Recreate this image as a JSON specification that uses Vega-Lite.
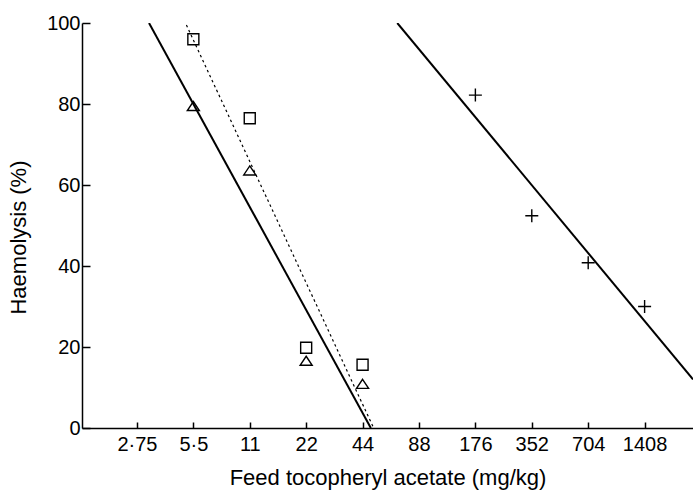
{
  "$schema": "https://vega.github.io/schema/vega-lite/v6.json",
  "autosize": {"type": "none"},
  "width": 611,
  "height": 405,
  "padding": {"left": 82, "top": 23, "right": 0, "bottom": 63},
  "background": "white",
  "config": {
    "view": {"stroke": null},
    "font": "Liberation Sans",
    "axis": {
      "domainColor": "black",
      "domainWidth": 1.5,
      "tickColor": "black",
      "tickWidth": 1.5,
      "labelColor": "black",
      "titleColor": "black",
      "labelFont": "Liberation Sans",
      "titleFont": "Liberation Sans",
      "labelFontSize": 20,
      "titleFontSize": 22,
      "titleFontWeight": "normal",
      "grid": false
    }
  },
  "datasets": {
    "pts": [
      {"series": "square", "dose": 5.5, "h": 96},
      {"series": "square", "dose": 11, "h": 76.5},
      {"series": "square", "dose": 22, "h": 19.8},
      {"series": "square", "dose": 44, "h": 15.6},
      {"series": "triangle", "dose": 5.5, "h": 79.5},
      {"series": "triangle", "dose": 11, "h": 63.6},
      {"series": "triangle", "dose": 22, "h": 16.6},
      {"series": "triangle", "dose": 44, "h": 10.9},
      {"series": "plus", "dose": 176, "h": 82.2},
      {"series": "plus", "dose": 352, "h": 52.4},
      {"series": "plus", "dose": 704, "h": 40.8},
      {"series": "plus", "dose": 1408, "h": 30}
    ],
    "fits": [
      {"fit": "triangle fit", "dose": 3.19, "h": 100},
      {"fit": "triangle fit", "dose": 48.7, "h": 0},
      {"fit": "square fit", "dose": 5.05, "h": 99.5},
      {"fit": "square fit", "dose": 50.4, "h": 0},
      {"fit": "plus fit", "dose": 67.4, "h": 100},
      {"fit": "plus fit", "dose": 2552, "h": 12}
    ]
  },
  "encoding": {
    "x": {
      "field": "dose",
      "type": "quantitative",
      "scale": {"type": "log", "base": 2, "domain": [1.4, 2552], "nice": false},
      "axis": {
        "title": "Feed tocopheryl acetate (mg/kg)",
        "values": [2.75, 5.5, 11, 22, 44, 88, 176, 352, 704, 1408],
        "labelExpr": "replace(toString(datum.value), '.', '·')",
        "tickSize": -6,
        "labelPadding": 12,
        "titlePadding": 13
      }
    },
    "y": {
      "field": "h",
      "type": "quantitative",
      "scale": {"domain": [0, 100], "nice": false},
      "axis": {
        "title": "Haemolysis (%)",
        "values": [0, 20, 40, 60, 80, 100],
        "tickSize": -8,
        "labelPadding": 10,
        "titlePadding": 16,
        "titleY": 214
      }
    }
  },
  "layer": [
    {
      "data": {"name": "fits"},
      "transform": [{"filter": "datum.fit !== 'square fit'"}],
      "mark": {"type": "line", "color": "black", "strokeWidth": 2, "clip": true},
      "encoding": {"detail": {"field": "fit"}}
    },
    {
      "data": {"name": "fits"},
      "transform": [{"filter": "datum.fit === 'square fit'"}],
      "mark": {"type": "line", "color": "black", "strokeWidth": 1.2, "strokeDash": [2.5, 3], "clip": true},
      "encoding": {"detail": {"field": "fit"}}
    },
    {
      "data": {"name": "pts"},
      "mark": {"type": "point", "filled": false, "color": "black", "strokeWidth": 1.4, "opacity": 1},
      "encoding": {
        "shape": {
          "field": "series",
          "type": "nominal",
          "scale": {
            "domain": ["square", "triangle", "plus"],
            "range": ["square", "M0,-0.75L1,0.75L-1,0.75Z", "M-1,0H1M0,-1V1"]
          },
          "legend": null
        },
        "size": {
          "field": "series",
          "type": "nominal",
          "scale": {"domain": ["square", "triangle", "plus"], "range": [121, 169, 144]},
          "legend": null
        }
      }
    }
  ]
}
